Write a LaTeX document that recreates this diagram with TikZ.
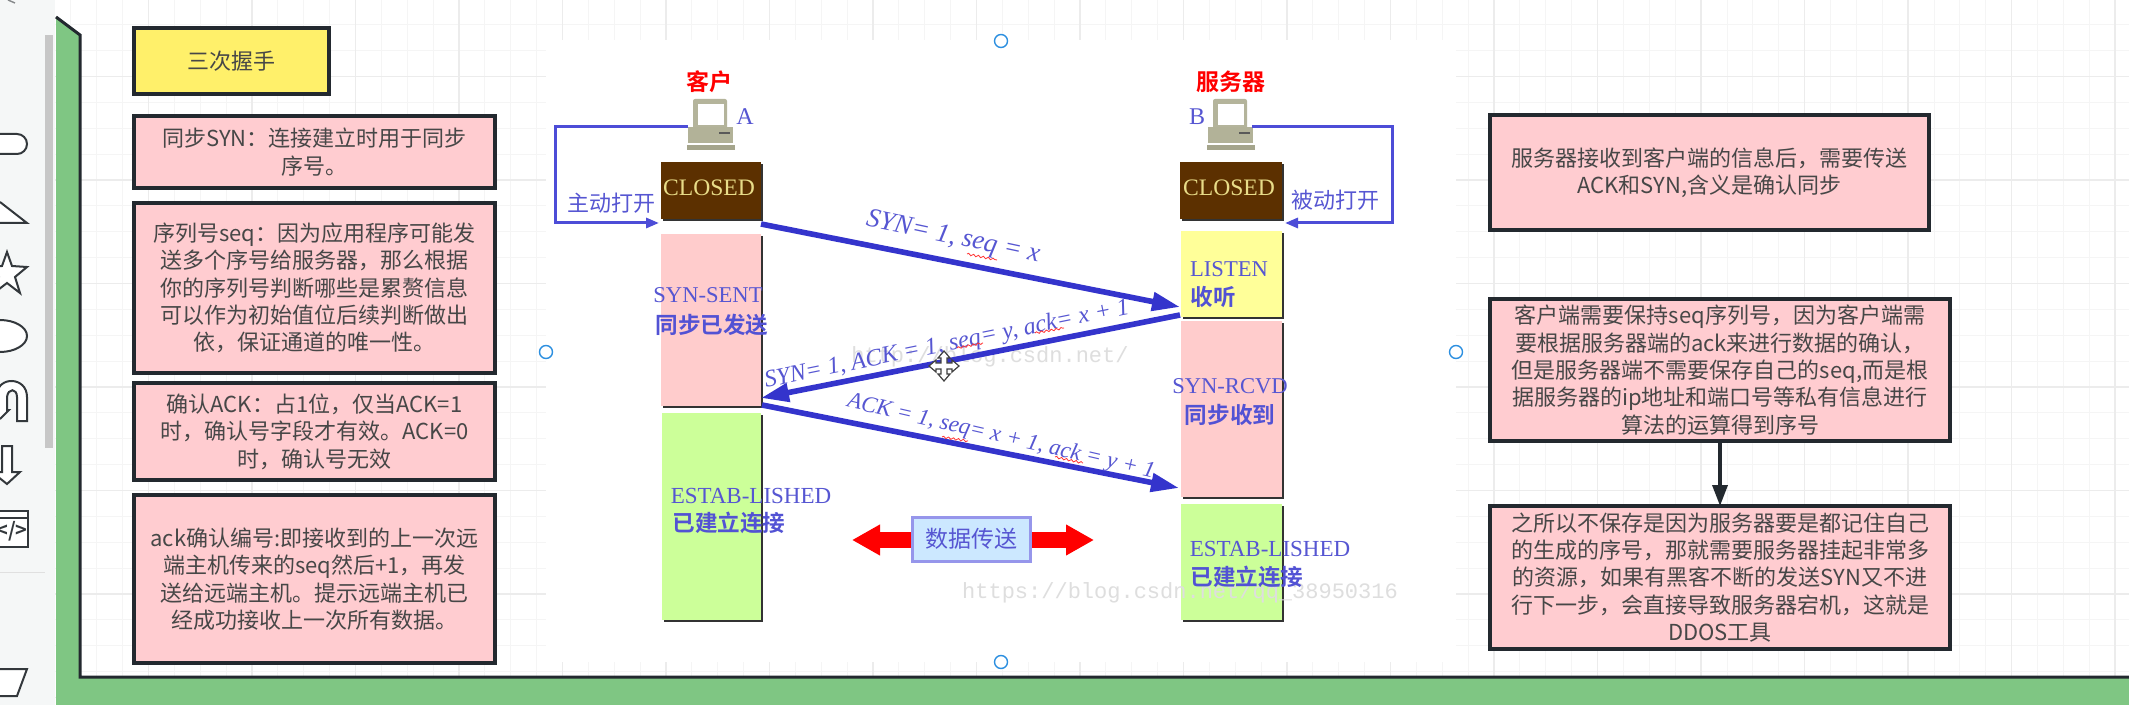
\documentclass[tikz,border=0pt]{standalone}
\usepackage{fontspec}
\setmainfont{Noto Sans CJK SC}[BoldFont={Noto Sans CJK SC Bold}]
\newfontfamily\latserif{Liberation Serif}
\newfontfamily\latmono{Liberation Mono}
\usetikzlibrary{arrows.meta,shadows,decorations.pathmorphing}
\definecolor{boxpink}{HTML}{FFCCD0}
\definecolor{boxyel}{HTML}{FFF06A}
\definecolor{edge}{HTML}{23292F}
\definecolor{frameg}{HTML}{7FC683}
\definecolor{sidebg}{HTML}{F5F7F7}
\definecolor{tcp}{HTML}{5656D2}
\definecolor{tcpstrong}{HTML}{3434CC}
\definecolor{closedbg}{HTML}{5C3000}
\definecolor{closedtx}{HTML}{E8DC88}
\definecolor{statepink}{HTML}{FFCCCC}
\definecolor{stateyel}{HTML}{FFFF99}
\definecolor{stategrn}{HTML}{CCFF99}
\definecolor{wm}{HTML}{DEDEDE}
\definecolor{handle}{HTML}{2C8FE0}
\definecolor{grid1}{HTML}{F5F5F5}
\definecolor{grid2}{HTML}{ECECEC}
\definecolor{shapeln}{HTML}{33383C}
\tikzset{
  note/.style={draw=edge,line width=1.6pt,fill=boxpink,inner sep=0pt,outer sep=0pt,align=center,text=black!72,
    font=\fontsize{11}{13.7}\selectfont},
  state/.style={inner sep=0pt,outer sep=0pt,drop shadow={shadow xshift=1pt,shadow yshift=-1pt,fill=black!80,opacity=1}},
  lab/.style={inner sep=0pt,text=tcp,font=\latserif\fontsize{11.3}{13}\selectfont},
  labcn/.style={inner sep=0pt,text=tcpstrong!85,font=\bfseries\fontsize{11.3}{13}\selectfont},
  open/.style={inner sep=0pt,text=tcp,font=\fontsize{11}{13}\selectfont},
  loopline/.style={draw=tcp!90!blue,line width=1.5pt,-{Triangle[length=6.5pt,width=5pt]}},
  msg/.style={draw=tcpstrong,line width=2.8pt,-{Triangle[length=14pt,width=9pt]}},
  msgtext/.style={inner sep=0pt,text=tcp,font=\latserif\itshape\fontsize{13.4}{14}\selectfont},
  wavy/.style={draw=red!80,line width=.4pt,decorate,decoration={snake,amplitude=.5pt,segment length=2.5pt}},
  wmark/.style={inner sep=0pt,text=wm,font=\latmono\fontsize{11}{13}\selectfont},
  selhandle/.style={circle,draw=handle,fill=white,line width=.7pt,minimum size=6.5pt,inner sep=0pt},
  sideshape/.style={draw=shapeln,line width=1pt,fill=white},
}
\newcommand{\pcicon}[2]{%
  \begin{scope}[shift={(#1,#2)}]
    \fill[rounded corners=1pt,fill={rgb,255:red,180;green,180;blue,155}] (6,0) rectangle (40,32);
    \fill[white] (11,5) rectangle (37,26);
    \fill[fill={rgb,255:red,178;green,178;blue,152}] (1,28) rectangle (46,44);
    \fill[black!65] (32,33) rectangle (43,35);
    \fill[fill={rgb,255:red,165;green,165;blue,140}] (0,46) rectangle (48,51);
  \end{scope}}
\begin{document}
\begin{tikzpicture}[x=0.5pt,y=-0.5pt]
\useasboundingbox (0,0) rectangle (2129,705);
\clip (0,0) rectangle (2129,705);
\fill[white] (0,0) rectangle (2129,705);
% grid
\foreach \i in {0,...,80}{\draw[grid1,line width=.4pt] ({45+25.875*\i},0) -- ({45+25.875*\i},705);}
\foreach \i in {0,...,28}{\draw[grid1,line width=.4pt] (0,{-27+25.875*\i}) -- (2129,{-27+25.875*\i});}
\foreach \i in {0,...,20}{\draw[grid2,line width=.6pt] ({45+103.5*\i},0) -- ({45+103.5*\i},705);}
\foreach \i in {0,...,7}{\draw[grid2,line width=.6pt] (0,{-27+103.5*\i}) -- (2129,{-27+103.5*\i});}
% sidebar
\fill[sidebg] (0,0) rectangle (55,705);
\fill[black!22] (45,35) rectangle (53,448);
\draw[black!12,line width=.5pt] (0,572) -- (45,572);
\draw[sideshape,rounded corners=5pt] (-20,134) rectangle (27,154);
\draw[sideshape] (0,202) -- (27,223) -- (-10,223);
\draw[sideshape] (7,252) -- (12,266) -- (27,267) -- (15,277) -- (20,293) -- (7,283) -- (-6,293) -- (-1,277) -- (-13,267) -- (2,266) -- cycle;
\draw[sideshape] (0,336) ellipse [x radius=27,y radius=16];
\draw[draw=shapeln,line width=1pt,fill=white] (-3,413) -- (-3,395) .. controls (-3,376) and (27,376) .. (27,397) -- (27,421) -- (17,421) -- (17,397) .. controls (17,388) and (8,388) .. (7,397) -- (7,410) -- (9,410) -- (0,419);
\draw[sideshape] (2,446) -- (12,446) -- (12,472) -- (20,472) -- (7,484) -- (-8,472) -- (2,472) -- cycle;
\draw[sideshape] (-5,511) rectangle (28,547);
\draw[shapeln,line width=1pt] (-5,518) -- (28,518);
\node[inner sep=0pt,text=shapeln,font=\bfseries\fontsize{10}{10}\selectfont] (codeicon) at (12,531) {</>};
\draw[sideshape] (-5,669) -- (27,669) -- (17,696) -- (-5,696);
\draw[shapeln!60,line width=.7pt] (8,0) -- (15,3);
% frame
\fill[frameg] (56,17) -- (80,35) -- (80,677) -- (2129,677) -- (2129,705) -- (56,705) -- cycle;
\draw[edge,line width=1.5pt] (56,17) -- (80,35) -- (80,677) -- (2129,677);
% image background
\fill[white] (546,40) rectangle (1456,662);
% left notes
\node[note,fill=boxyel,minimum width=97.5pt,minimum height=33pt] (title) at (231.5,61) {三次握手};
\node[note,minimum width=180.5pt,minimum height=36pt] (n1) at (314.5,152) {同步SYN：连接建立时用于同步\\序号。};
\node[note,minimum width=180.5pt,minimum height=85pt] (n2) at (314.5,288) {序列号seq：因为应用程序可能发\\送多个序号给服务器，那么根据\\你的序列号判断哪些是累赘信息\\可以作为初始值位后续判断做出\\依，保证通道的唯一性。};
\node[note,minimum width=180.5pt,minimum height=48.5pt] (n3) at (314.5,431.5) {确认ACK：占1位，仅当ACK=1\\时，确认号字段才有效。ACK=0\\时，确认号无效};
\node[note,minimum width=180.5pt,minimum height=84pt] (n4) at (314.5,579) {ack确认编号:即接收到的上一次远\\端主机传来的seq然后+1，再发\\送给远端主机。提示远端主机已\\经成功接收上一次所有数据。};
% right notes
\node[note,minimum width=219.5pt,minimum height=57.5pt] (r1) at (1709.5,172.5) {服务器接收到客户端的信息后，需要传送\\ACK和SYN,含义是确认同步};
\node[note,minimum width=230pt,minimum height=71pt] (r2) at (1720,370) {客户端需要保持seq序列号，因为客户端需\\要根据服务器端的ack来进行数据的确认，\\但是服务器端不需要保存自己的seq,而是根\\据服务器的ip地址和端口号等私有信息进行\\算法的运算得到序号};
\node[note,minimum width=230pt,minimum height=71.5pt] (r3) at (1720,577.5) {之所以不保存是因为服务器要是都记住自己\\的生成的序号，那就需要服务器挂起非常多\\的资源，如果有黑客不断的发送SYN又不进\\行下一步，会直接导致服务器宕机，这就是\\DDOS工具};
\draw[edge,line width=1.75pt,-{Triangle[length=10.5pt,width=7.5pt]}] (r2) -- (r3);
% client column
\node[inner sep=0pt,text=red,font=\bfseries\fontsize{11.5}{13}\selectfont] (kehu) at (709,82) {客户};
\pcicon{687}{99}
\coordinate (pcA) at (688,127);
\node[lab,font=\latserif\fontsize{12}{13}\selectfont] (labA) at (745,117) {A};
\node[state,fill=closedbg,minimum width=50pt,minimum height=28.5pt] (closedA) at (711,190.5) {};
\node[inner sep=0pt,text=closedtx,font=\latserif\fontsize{11.8}{13}\selectfont] (closedAt) at (709,188) {CLOSED};
\node[state,fill=statepink,minimum width=50pt,minimum height=86pt] (sent) at (711,320) {};
\node[state,fill=stategrn,minimum width=49.5pt,minimum height=103.5pt] (estA) at (711.5,516.5) {};
\coordinate (loopA1) at (555,127);
\coordinate (loopA2) at (555,223);
\coordinate (loopA3) at (659,223);
\draw[loopline] (pcA) -- (loopA1) -- (loopA2) -- (loopA3);
\node[open] (zhu) at (611,203) {主动打开};
\node[lab] (sentt) at (708,295) {SYN-SENT};
\node[labcn] (sentc) at (712,325) {同步已发送};
\node[lab,font=\latserif\fontsize{11.5}{13}\selectfont] (estAt) at (751,496) {ESTAB-LISHED};
\node[labcn] (estAc) at (729,523) {已建立连接};
% server column
\node[inner sep=0pt,text=red,font=\bfseries\fontsize{11.5}{13}\selectfont] (fuwu) at (1231,82) {服务器};
\pcicon{1207}{99}
\coordinate (pcB) at (1252,127);
\node[lab,font=\latserif\fontsize{12}{13}\selectfont] (labB) at (1197,117) {B};
\node[state,fill=closedbg,minimum width=51pt,minimum height=28.5pt] (closedB) at (1230.5,190.5) {};
\node[inner sep=0pt,text=closedtx,font=\latserif\fontsize{11.8}{13}\selectfont] (closedBt) at (1229,188) {CLOSED};
\node[state,fill=stateyel,minimum width=50.5pt,minimum height=43pt] (listen) at (1231.5,274) {};
\node[state,fill=statepink,minimum width=50.5pt,minimum height=88pt] (rcvd) at (1231.5,409) {};
\node[state,fill=stategrn,minimum width=50.5pt,minimum height=58pt] (estB) at (1231.5,562) {};
% watermarks, lying over the state boxes and under the labels
\node[wmark] (wm1) at (990,357) {http://blog.csdn.net/};
\node[wmark] (wm2) at (1180,593) {https://blog.csdn.net/qq\_38950316};
\coordinate (loopB1) at (1392,127);
\coordinate (loopB2) at (1392,223);
\coordinate (loopB3) at (1285,223);
\draw[loopline] (pcB) -- (loopB1) -- (loopB2) -- (loopB3);
\node[open] (bei) at (1335,200) {被动打开};
\node[lab] (listent) at (1229,269) {LISTEN};
\node[labcn] (listenc) at (1213,297) {收听};
\node[lab] (rcvdt) at (1230,386) {SYN-RCVD};
\node[labcn] (rcvdc) at (1230,415) {同步收到};
\node[lab,font=\latserif\fontsize{11.5}{13}\selectfont] (estBt) at (1270,549) {ESTAB-LISHED};
\node[labcn] (estBc) at (1247,577) {已建立连接};
% messages
\coordinate (m1a) at (761,224);
\coordinate (m1b) at (1180,307);
\coordinate (m2a) at (1180,315);
\coordinate (m2b) at (761,398);
\coordinate (m3a) at (762,405);
\coordinate (m3b) at (1179,488);
\draw[msg] (m1a) -- (m1b);
\draw[msg] (m2a) -- (m2b);
\draw[msg] (m3a) -- (m3b);
\node[msgtext,rotate=-12] (t1) at (953,238) {SYN= 1, seq = x};
\node[msgtext,rotate=11.5,font=\latserif\itshape\fontsize{12.1}{14}\selectfont] (t2) at (947,345) {SYN= 1, ACK = 1, seq= y, ack= x + 1};
\node[msgtext,rotate=-13,font=\latserif\itshape\fontsize{11.5}{14}\selectfont] (t3) at (1001,437) {ACK = 1, seq= x + 1, ack = y + 1};
\coordinate (w1a) at (967,254); \coordinate (w1b) at (997,260);
\coordinate (w2a) at (957,348); \coordinate (w2b) at (983,343);
\coordinate (w3a) at (1035,333); \coordinate (w3b) at (1064,328);
\coordinate (w4a) at (942,437); \coordinate (w4b) at (968,441);
\coordinate (w5a) at (1055,457); \coordinate (w5b) at (1083,463);
\draw[wavy] (w1a) -- (w1b); \draw[wavy] (w2a) -- (w2b); \draw[wavy] (w3a) -- (w3b);
\draw[wavy] (w4a) -- (w4b); \draw[wavy] (w5a) -- (w5b);
% data transfer
\coordinate (dL) at (852,540);
\coordinate (dR) at (1094,540);
\draw[red,line width=8pt,{Triangle[length=14pt,width=14.5pt]}-{Triangle[length=14pt,width=14.5pt]}] (dL) -- (dR);
\node[draw={rgb,255:red,150;green,150;blue,235},line width=1.5pt,fill={rgb,255:red,204;green,232;blue,255},minimum width=59pt,minimum height=22pt,inner sep=0pt,text=tcp,font=\fontsize{11.5}{13}\selectfont] (data) at (971,539) {数据传送};
% cursor
\draw[fill=white,draw=black!75,line width=.6pt] (944,351) -- (950,358) -- (947,358) -- (947,363) -- (952,363) -- (952,360) -- (959,366) -- (952,372) -- (952,369) -- (947,369) -- (947,374) -- (950,374) -- (944,381) -- (938,374) -- (941,374) -- (941,369) -- (936,369) -- (936,372) -- (929,366) -- (936,360) -- (936,363) -- (941,363) -- (941,358) -- (938,358) -- cycle;
% selection handles
\node[selhandle] (h1) at (1001,41) {};
\node[selhandle] (h2) at (546,352) {};
\node[selhandle] (h3) at (1456,352) {};
\node[selhandle] (h4) at (1001,662) {};
\end{tikzpicture}
\end{document}
